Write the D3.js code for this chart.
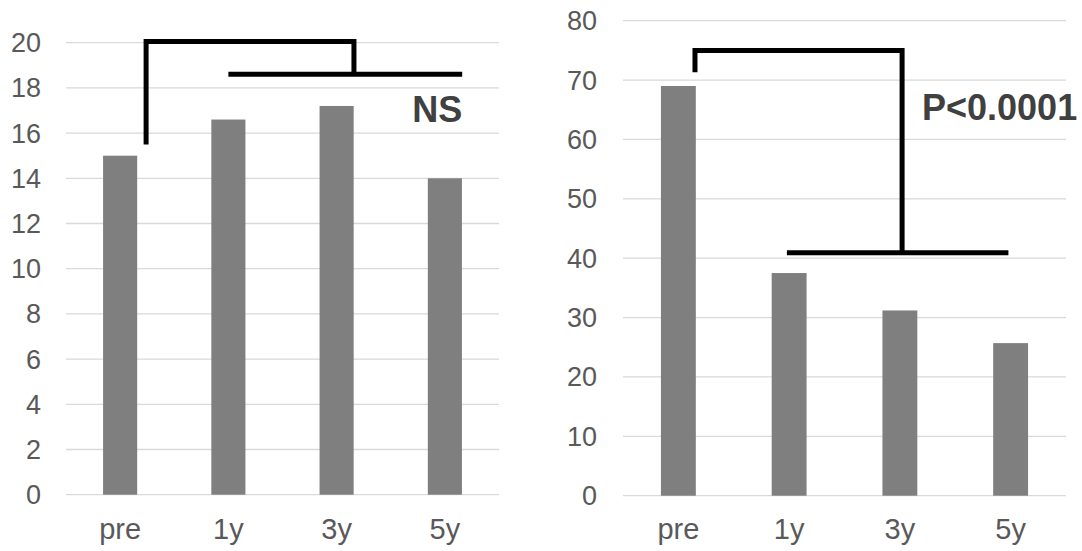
<!DOCTYPE html>
<html>
<head>
<meta charset="utf-8">
<script src="https://cdn.jsdelivr.net/npm/d3@7"></script>
<style>
  body { margin: 0; background: #fff; }
  svg { display: block; font-family: Arial, "Liberation Sans", sans-serif; }
</style>
</head>
<body>
<div id="chart"></div>
<script>
// categories and values
const categories = ["pre", "1y", "3y", "5y"];
const leftValues = [15, 16.6, 17.2, 14];
const rightValues = [69, 37.5, 31.2, 25.7];
const leftTicks = [0, 2, 4, 6, 8, 10, 12, 14, 16, 18, 20];
const rightTicks = [0, 10, 20, 30, 40, 50, 60, 70, 80];

// significance brackets (category + offset in steps, value units)
const leftBracket = {
  up: { cat: "pre", off: 0.24, from: 15.5, to: 20.05 },
  right: { cat: "3y", off: 0.16, to: 18.6 },
  base: { from: ["1y", 0], to: ["5y", 0.16], y: 18.6 },
  label: { text: "NS", cat: "5y", off: 0.16, y: 16.5, anchor: "end" }
};
const rightBracket = {
  up: { cat: "pre", off: 0.15, from: 71.3, to: 75 },
  right: { cat: "3y", off: 0.02, to: 40.9 },
  base: { from: ["1y", -0.02], to: ["5y", -0.02], y: 40.9 },
  label: { text: "P<0.0001", cat: "3y", off: 0.2, y: 63.3, anchor: "start" }
};

const width = 1082;
const height = 551;

const svg = d3.select("#chart")
  .append("svg")
  .attr("width", width)
  .attr("height", height);

function drawPanel(values, ticks, maxY, xRange, yRange, bracket, labelRight) {
  const x = d3.scaleBand()
    .domain(categories)
    .range(xRange)
    .paddingInner(0.685)
    .paddingOuter(0.3425);
  const y = d3.scaleLinear().domain([0, maxY]).range(yRange);

  const g = svg.append("g");

  // gridlines
  g.selectAll("line.grid")
    .data(ticks)
    .enter()
    .append("line")
    .attr("x1", xRange[0])
    .attr("x2", xRange[1])
    .attr("y1", d => y(d))
    .attr("y2", d => y(d))
    .attr("stroke", "#d9d9d9")
    .attr("stroke-width", 1.3);

  // y tick labels
  g.selectAll("text.ytick")
    .data(ticks)
    .enter()
    .append("text")
    .attr("x", labelRight)
    .attr("y", d => y(d))
    .attr("dy", "0.35em")
    .attr("text-anchor", "end")
    .attr("fill", "#595959")
    .style("font-size", "27px")
    .text(d => d);

  // bars
  g.selectAll("rect")
    .data(values)
    .enter()
    .append("rect")
    .attr("x", (d, i) => x(categories[i]))
    .attr("width", x.bandwidth())
    .attr("y", d => y(d))
    .attr("height", d => y(0) - y(d))
    .attr("fill", "#7f7f7f");

  // x labels
  g.selectAll("text.xlab")
    .data(categories)
    .enter()
    .append("text")
    .attr("x", d => x(d) + x.bandwidth() / 2)
    .attr("y", 539)
    .attr("text-anchor", "middle")
    .attr("fill", "#595959")
    .style("font-size", "29px")
    .text(d => d);

  // bracket
  const px = (cat, off) => x(cat) + x.bandwidth() / 2 + off * x.step();
  const b = bracket;
  const path = d3.path();
  path.moveTo(px(b.up.cat, b.up.off), y(b.up.from));
  path.lineTo(px(b.up.cat, b.up.off), y(b.up.to));
  path.lineTo(px(b.right.cat, b.right.off), y(b.up.to));
  path.lineTo(px(b.right.cat, b.right.off), y(b.right.to));
  path.moveTo(px(b.base.from[0], b.base.from[1]), y(b.base.y));
  path.lineTo(px(b.base.to[0], b.base.to[1]), y(b.base.y));

  g.append("path")
    .attr("d", path.toString())
    .attr("fill", "none")
    .attr("stroke", "#000")
    .attr("stroke-width", 5);

  g.append("text")
    .attr("x", px(b.label.cat, b.label.off))
    .attr("y", y(b.label.y))
    .attr("text-anchor", b.label.anchor)
    .attr("fill", "#404040")
    .style("font-size", "36px")
    .style("font-weight", "bold")
    .text(b.label.text);
}

drawPanel(leftValues, leftTicks, 20, [66, 499], [494.7, 42.7], leftBracket, 41);
drawPanel(rightValues, rightTicks, 80, [623, 1066], [495.7, 20.7], rightBracket, 597);
</script>
</body>
</html>
